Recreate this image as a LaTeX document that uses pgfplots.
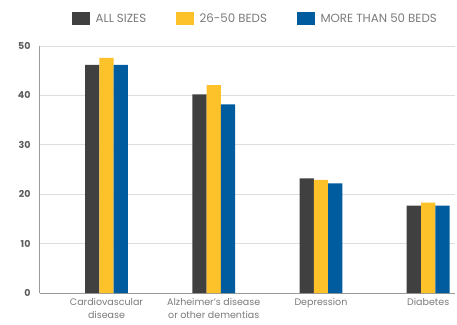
\documentclass[border=0pt]{standalone}
\usepackage{fontspec}
\setmainfont{Poppins}
\usepackage{pgfplots}
\pgfplotsset{compat=1.18}
\definecolor{cdark}{HTML}{404040}
\definecolor{cyel}{HTML}{FDC12A}
\definecolor{cblue}{HTML}{005C9E}
\definecolor{cgrid}{HTML}{DEDEDE}
\definecolor{caxis}{HTML}{9A9A9A}
\definecolor{ctext}{HTML}{7A7A7A}
\begin{document}
\begin{tikzpicture}
\useasboundingbox (-40pt,-31pt) rectangle (417pt,293pt);
\begin{axis}[
  scale only axis, width=415pt, height=247pt,
  ybar=0pt, bar width=14.3pt,
  ymin=0, ymax=50, ytick={0,10,...,50},
  xmin=-0.62, xmax=3.25,
  xtick={0,1,2,3},
  xticklabels={{Cardiovascular\\disease},{Alzheimer's disease\\or other dementias},{Depression},{Diabetes}},
  xticklabel style={align=center, font=\fontsize{9.5}{12.5}\selectfont, text=ctext, yshift=-2pt},
  yticklabel style={font=\bfseries\fontsize{9.5}{10}\selectfont, text=cdark!85, xshift=-6pt},
  /pgf/number format/assume math mode=true,
  axis x line*=bottom, axis y line*=left,
  axis line style={caxis, line width=1pt},
  ymajorgrids, grid style={cgrid, line width=0.9pt},
  major tick length=0pt,
  legend style={at={(0,1)}, anchor=south west, xshift=32pt, yshift=20pt, draw=none, fill=none,
    inner sep=0pt,
    legend columns=3, font=\fontsize{11.8}{12}\selectfont, text=ctext,
    /tikz/every even column/.append style={column sep=28pt},
    /tikz/every odd column/.append style={column sep=4pt}},
  legend image code/.code={\fill[#1] (0pt,-6.5pt) rectangle (17.5pt,6.5pt);},
]
\addplot[fill=cdark, draw=none] coordinates {(0,46.2) (1,40.2) (2,23.2) (3,17.7)};
\addplot[fill=cyel, draw=none] coordinates {(0,47.6) (1,42.1) (2,22.9) (3,18.3)};
\addplot[fill=cblue, draw=none] coordinates {(0,46.2) (1,38.2) (2,22.2) (3,17.7)};
\legend{ALL SIZES, 26-50 BEDS, MORE THAN 50 BEDS}
\end{axis}
\end{tikzpicture}
\end{document}
